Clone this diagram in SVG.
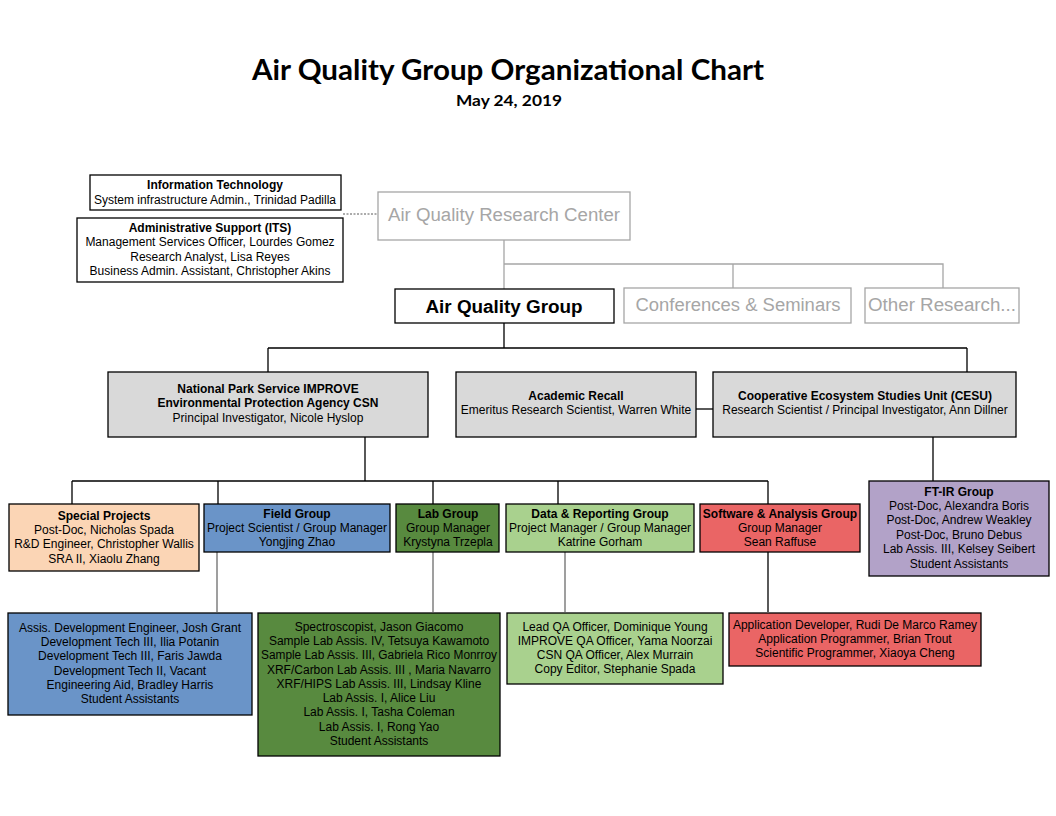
<svg xmlns="http://www.w3.org/2000/svg" width="1056" height="816" viewBox="0 0 1056 816">
<style>
.t{font-family:"Liberation Sans",Arial,sans-serif;font-size:12px;text-anchor:middle;fill:#000}
.b{font-weight:bold}
.box{stroke:#000;stroke-width:1.3}
.gbox{fill:#fff;stroke:#a6a6a6;stroke-width:1.3}
.big{font-family:"Liberation Sans",Arial,sans-serif;font-size:18px;text-anchor:middle}
.ln{fill:none;stroke:#000;stroke-width:1.3}
.lg{fill:none;stroke:#a6a6a6;stroke-width:1.3}
.lm{fill:none;stroke:#7f7f7f;stroke-width:1.5}
</style>
<rect width="1056" height="816" fill="#fff"/>
<text x="508" y="80" font-family="Lato,'Open Sans',sans-serif" font-weight="bold" font-size="28" text-anchor="middle" textLength="512" lengthAdjust="spacingAndGlyphs">Air Quality Group Organizational Chart</text>
<text x="509" y="106" font-family="Lato,'Open Sans',sans-serif" font-weight="bold" font-size="16" text-anchor="middle" textLength="106" lengthAdjust="spacingAndGlyphs">May 24, 2019</text>

<g id="connectors">
<line x1="343" y1="214" x2="378" y2="214" stroke="#595959" stroke-width="1" stroke-dasharray="2,1.5"/>
<path class="lg" d="M504,240V289M504,264H943V288M733,264V288"/>
<path class="ln" d="M504,323V348M268,348H967M268,348V372M967,348V372"/>
<path class="ln" d="M696,409H713"/>
<path class="ln" d="M365,437V481M72,481H768M72,481V504M218,481V504M433,481V504M558,481V504M768,481V504"/>
<path class="ln" d="M933,437V481"/>
<path class="lm" d="M217,552V612"/>
<path class="lm" d="M433,552V612"/>
<path class="lm" d="M565,552V612"/>
<path class="ln" d="M768,552V612"/>
</g>

<g id="it">
<rect class="box" x="90" y="175" width="251" height="35" fill="#fff"/>
<text class="t b" x="215" y="189">Information Technology</text>
<text class="t" x="215" y="204">System infrastructure Admin., Trinidad Padilla</text>
</g>
<g id="admin">
<rect class="box" x="77" y="218" width="266" height="64" fill="#fff"/>
<text class="t b" x="210" y="232">Administrative  Support (ITS)</text>
<text class="t" x="210" y="246">Management Services Officer, Lourdes Gomez</text>
<text class="t" x="210" y="261">Research Analyst, Lisa Reyes</text>
<text class="t" x="210" y="275">Business Admin. Assistant, Christopher Akins</text>
</g>
<g id="aqrc">
<rect class="gbox" x="378" y="192" width="252" height="48"/>
<text class="big" x="504" y="221" fill="#a6a6a6" textLength="232" lengthAdjust="spacingAndGlyphs">Air Quality Research Center</text>
</g>
<g id="aqg">
<rect class="box" x="395" y="289" width="219" height="34" fill="#fff"/>
<text class="big b" x="504" y="313" fill="#000" textLength="157" lengthAdjust="spacingAndGlyphs">Air Quality Group</text>
</g>
<g id="conf">
<rect class="gbox" x="624" y="288" width="227" height="35"/>
<text class="big" x="738" y="311" fill="#a6a6a6" textLength="205" lengthAdjust="spacingAndGlyphs">Conferences &amp; Seminars</text>
</g>
<g id="other">
<rect class="gbox" x="865" y="288" width="154" height="35"/>
<text class="big" x="942" y="311" fill="#a6a6a6" textLength="148" lengthAdjust="spacingAndGlyphs">Other Research...</text>
</g>

<g id="nps">
<rect class="box" x="108" y="372" width="320" height="65" fill="#d9d9d9"/>
<text class="t b" x="268" y="393">National  Park Service IMPROVE</text>
<text class="t b" x="268" y="407">Environmental  Protection Agency CSN</text>
<text class="t" x="268" y="422">Principal Investigator, Nicole Hyslop</text>
</g>
<g id="academic">
<rect class="box" x="456" y="372" width="240" height="65" fill="#d9d9d9"/>
<text class="t b" x="576" y="400">Academic Recall</text>
<text class="t" x="576" y="414">Emeritus Research Scientist, Warren White</text>
</g>
<g id="cesu">
<rect class="box" x="713" y="372" width="303" height="65" fill="#d9d9d9"/>
<text class="t b" x="865" y="400">Cooperative  Ecosystem Studies Unit  (CESU)</text>
<text class="t" x="865" y="414">Research Scientist / Principal Investigator, Ann Dillner</text>
</g>

<g id="special">
<rect class="box" x="9" y="504" width="190" height="67" fill="#fbd5b5"/>
<text class="t b" x="104" y="520">Special Projects</text>
<text class="t" x="104" y="534">Post-Doc, Nicholas Spada</text>
<text class="t" x="104" y="548">R&amp;D Engineer, Christopher Wallis</text>
<text class="t" x="104" y="563">SRA II,  Xiaolu Zhang</text>
</g>
<g id="field">
<rect class="box" x="204" y="504" width="186" height="48" fill="#6a94c8"/>
<text class="t b" x="297" y="518">Field  Group</text>
<text class="t" x="297" y="532">Project Scientist / Group Manager</text>
<text class="t" x="297" y="546">Yongjing Zhao</text>
</g>
<g id="lab">
<rect class="box" x="396" y="504" width="103" height="48" fill="#588a3f"/>
<text class="t b" x="448" y="518">Lab Group</text>
<text class="t" x="448" y="532">Group Manager</text>
<text class="t" x="448" y="546">Krystyna Trzepla</text>
</g>
<g id="data">
<rect class="box" x="506" y="504" width="188" height="48" fill="#a9d18e"/>
<text class="t b" x="600" y="518">Data &amp; Reporting  Group</text>
<text class="t" x="600" y="532">Project Manager /  Group Manager</text>
<text class="t" x="600" y="546">Katrine Gorham</text>
</g>
<g id="software">
<rect class="box" x="700" y="504" width="160" height="48" fill="#ea6565"/>
<text class="t b" x="780" y="518">Software &amp; Analysis  Group</text>
<text class="t" x="780" y="532">Group Manager</text>
<text class="t" x="780" y="546">Sean Raffuse</text>
</g>
<g id="ftir">
<rect class="box" x="869" y="481" width="180" height="95" fill="#b2a2c8"/>
<text class="t b" x="959" y="496">FT-IR  Group</text>
<text class="t" x="959" y="510">Post-Doc, Alexandra Boris</text>
<text class="t" x="959" y="524">Post-Doc, Andrew Weakley</text>
<text class="t" x="959" y="539">Post-Doc, Bruno Debus</text>
<text class="t" x="959" y="553">Lab Assis. III, Kelsey Seibert</text>
<text class="t" x="959" y="568">Student Assistants</text>
</g>

<g id="field-staff">
<rect class="box" x="8" y="613" width="244" height="102" fill="#6a94c8"/>
<text class="t" x="130" y="632">Assis. Development Engineer, Josh Grant</text>
<text class="t" x="130" y="646">Development Tech III,  Ilia Potanin</text>
<text class="t" x="130" y="660">Development Tech III,  Faris Jawda</text>
<text class="t" x="130" y="675">Development Tech II, Vacant</text>
<text class="t" x="130" y="689">Engineering Aid, Bradley Harris</text>
<text class="t" x="130" y="703">Student Assistants</text>
</g>
<g id="lab-staff">
<rect class="box" x="258" y="613" width="242" height="143" fill="#588a3f"/>
<text class="t" x="379" y="631">Spectroscopist, Jason Giacomo</text>
<text class="t" x="379" y="645">Sample Lab Assis. IV,  Tetsuya Kawamoto</text>
<text class="t" x="379" y="659" textLength="236" lengthAdjust="spacingAndGlyphs">Sample Lab Assis. III,  Gabriela Rico Monrroy</text>
<text class="t" x="379" y="674">XRF/Carbon Lab Assis. III  , Maria Navarro</text>
<text class="t" x="379" y="688">XRF/HIPS  Lab Assis. III,  Lindsay Kline</text>
<text class="t" x="379" y="702">Lab Assis. I, Alice Liu</text>
<text class="t" x="379" y="716">Lab Assis. I, Tasha Coleman</text>
<text class="t" x="379" y="731">Lab Assis. I, Rong Yao</text>
<text class="t" x="379" y="745">Student Assistants</text>
</g>
<g id="data-staff">
<rect class="box" x="507" y="613" width="216" height="71" fill="#a9d18e"/>
<text class="t" x="615" y="631">Lead QA Officer,  Dominique Young</text>
<text class="t" x="615" y="645">IMPROVE  QA Officer,  Yama Noorzai</text>
<text class="t" x="615" y="659">CSN QA  Officer,  Alex  Murrain</text>
<text class="t" x="615" y="673">Copy Editor, Stephanie Spada</text>
</g>
<g id="software-staff">
<rect class="box" x="729" y="613" width="252" height="53" fill="#ea6565"/>
<text class="t" x="855" y="629">Application Developer, Rudi De Marco Ramey</text>
<text class="t" x="855" y="643">Application Programmer, Brian Trout</text>
<text class="t" x="855" y="657">Scientific Programmer, Xiaoya Cheng</text>
</g>
</svg>
